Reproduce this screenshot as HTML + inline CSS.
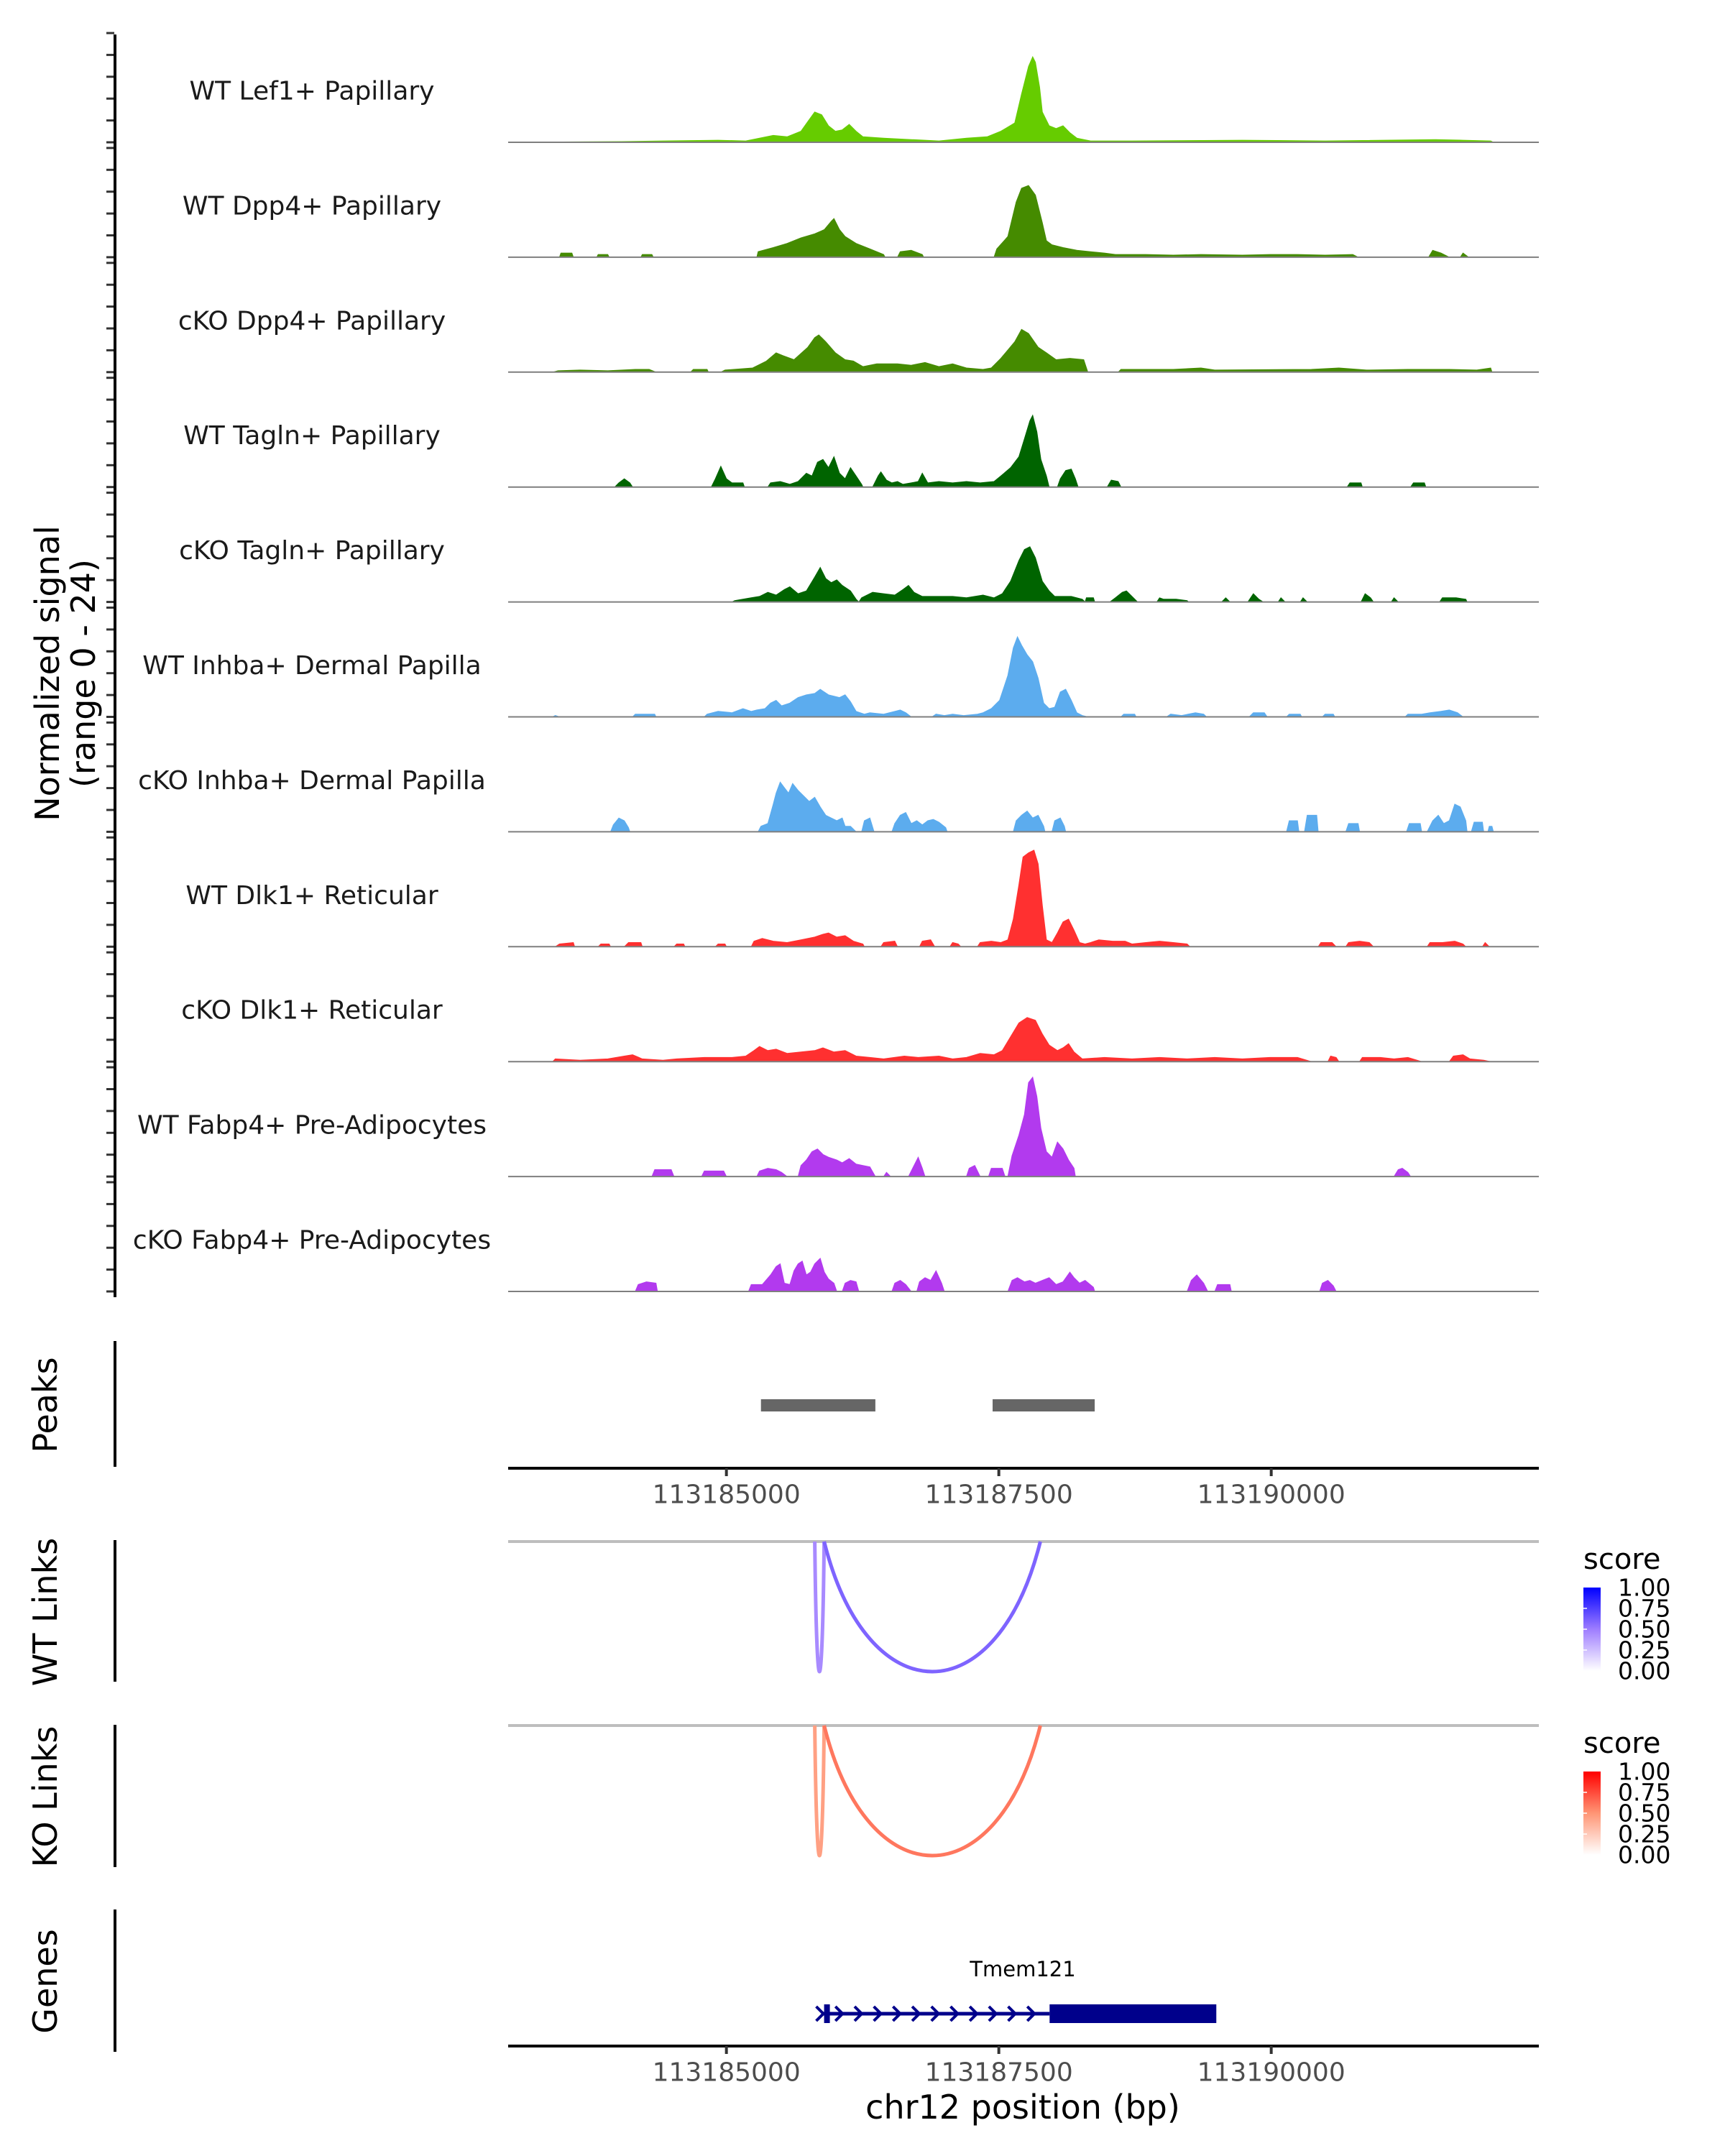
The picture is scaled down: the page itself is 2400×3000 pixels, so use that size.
<!DOCTYPE html>
<html><head><meta charset="utf-8"><title>Coverage plot chr12 Tmem121</title>
<style>
html,body{margin:0;padding:0;background:#fff;}
svg{display:block;font-family:"DejaVu Sans","Liberation Sans",sans-serif;}
</style></head>
<body>
<svg id="chart" width="2400" height="3000" viewBox="0 0 2400 3000" xmlns="http://www.w3.org/2000/svg">
<rect x="0" y="0" width="2400" height="3000" fill="#fff"/>
<g id="g-tracks"></g>
<g id="g-axes"></g>
<g id="g-peaks"></g>
<g id="g-links"></g>
<g id="g-genes"></g>
<defs>
<linearGradient id="gradBlue" x1="0" y1="1" x2="0" y2="0"><stop offset="0" stop-color="#ffffff"/><stop offset="0.5" stop-color="#9e7dff"/><stop offset="1" stop-color="#0000ff"/></linearGradient>
<linearGradient id="gradRed" x1="0" y1="1" x2="0" y2="0"><stop offset="0" stop-color="#ffffff"/><stop offset="0.5" stop-color="#ff9575"/><stop offset="1" stop-color="#ff0000"/></linearGradient>
</defs>
</svg>
<script>
// ---- data: genomic offsets (bp from 113185000) and normalized signal ----
const anchorBp = 113185000;
const regionStart = 113182997;
const regionEnd = 113192456;
const axisTicks = [113185000, 113187500, 113190000];
const trackNames = ["WT Lef1+ Papillary","WT Dpp4+ Papillary","cKO Dpp4+ Papillary","WT Tagln+ Papillary","cKO Tagln+ Papillary","WT Inhba+ Dermal Papilla","cKO Inhba+ Dermal Papilla","WT Dlk1+ Reticular","cKO Dlk1+ Reticular","WT Fabp4+ Pre-Adipocytes","cKO Fabp4+ Pre-Adipocytes"];
const trackColors = ["#66cc00","#458b00","#458b00","#006400","#006400","#5cacee","#5cacee","#ff3030","#ff3030","#b23aee","#b23aee"];

const sigWTLef1 = [[-1975,0],[-962,0.15],[-582,0.3],[-76,0.45],[177,0.3],[304,0.9],[430,1.5],[557,1.2],[684,2.4],[747,4.5],[810,6.6],[874,6],[937,3.6],[1000,2.4],[1063,2.7],[1127,3.9],[1190,2.4],[1253,1.2],[1443,0.9],[1696,0.6],[1950,0.3],[2203,0.9],[2393,1.2],[2519,2.4],[2646,4.2],[2709,10.5],[2773,16.5],[2811,18.6],[2836,17.4],[2874,12],[2899,6.6],[2962,3.6],[3026,3],[3089,3.6],[3152,2.1],[3216,0.9],[3342,0.3],[3722,0.3],[4735,0.45],[5494,0.3],[6507,0.6],[6760,0.45],[7014,0.3],[7039,0]];
const sigWTDpp4 = [[-1532,0],[-1519,0.9],[-1418,0.9],[-1405,0],[-1190,0],[-1177,0.6],[-1089,0.6],[-1076,0],[-785,0],[-772,0.6],[-684,0.6],[-671,0],[279,0],[291,1.2],[430,2.1],[557,3],[684,4.2],[810,5.1],[899,6],[962,7.8],[987,8.4],[1038,6],[1089,4.5],[1190,3],[1317,1.8],[1443,0.6],[1456,0],[1570,0],[1595,1.2],[1696,1.5],[1798,0.6],[1810,0],[2456,0],[2481,1.8],[2583,4.5],[2659,12],[2709,15],[2773,15.6],[2836,13.5],[2899,7.5],[2937,3.6],[2988,2.7],[3089,2.1],[3216,1.5],[3342,1.2],[3469,0.9],[3570,0.6],[3595,0.6],[3849,0.6],[4102,0.45],[4355,0.6],[4735,0.45],[4988,0.6],[5241,0.6],[5494,0.45],[5748,0.6],[5798,0],[6444,0],[6482,1.5],[6558,0.9],[6634,0],[6735,0],[6760,0.9],[6811,0]];
const sigKODpp4 = [[-1595,0],[-1545,0.3],[-1342,0.45],[-1089,0.3],[-836,0.6],[-709,0.6],[-646,0],[-329,0],[-304,0.6],[-177,0.6],[-165,0],[-51,0],[-13,0.45],[241,0.9],[367,2.4],[456,4.2],[519,3.6],[620,2.7],[747,5.4],[810,7.5],[848,8.1],[912,6.6],[1000,4.2],[1089,2.7],[1165,2.4],[1253,1.2],[1380,1.8],[1570,1.8],[1696,1.5],[1823,2.1],[1950,1.2],[2076,1.8],[2203,0.9],[2355,0.6],[2431,0.9],[2519,3],[2646,6.6],[2709,9.3],[2773,8.4],[2861,5.4],[2937,4.2],[3026,2.7],[3152,3],[3279,2.7],[3317,0],[3595,0],[3621,0.6],[4102,0.6],[4355,0.9],[4482,0.45],[5368,0.6],[5621,0.9],[5874,0.45],[6254,0.6],[6634,0.6],[6887,0.45],[7014,0.9],[7026,0]];
const sigWTTagln = [[-1025,0],[-987,0.9],[-937,1.8],[-886,0.9],[-861,0],[-139,0],[-101,1.8],[-51,4.5],[0,1.8],[51,0.9],[152,0.9],[165,0],[380,0],[405,0.9],[494,1.2],[582,0.6],[658,1.2],[734,3],[785,2.4],[836,5.4],[886,6],[937,4.2],[987,6.6],[1038,3],[1089,1.8],[1139,4.2],[1190,2.4],[1241,0.6],[1253,0],[1342,0],[1393,2.4],[1418,3.3],[1469,1.5],[1519,0.9],[1570,1.2],[1620,0.6],[1696,0.9],[1760,1.2],[1798,3],[1848,0.9],[1950,1.2],[2076,0.9],[2203,1.2],[2329,0.9],[2456,1.2],[2519,2.4],[2608,4.2],[2684,6.6],[2735,10.5],[2785,14.4],[2811,15.6],[2849,12],[2886,6],[2937,2.4],[2962,0],[3038,0],[3064,1.8],[3114,3.6],[3165,3.9],[3203,1.8],[3228,0],[3494,0],[3532,1.5],[3595,1.2],[3621,0],[5697,0],[5722,0.9],[5824,0.9],[5836,0],[6279,0],[6305,0.9],[6406,0.9],[6419,0]];
const sigKOTagln = [[51,0],[76,0.3],[228,0.9],[304,1.2],[380,2.1],[456,1.5],[532,2.7],[582,3.3],[658,1.8],[734,2.4],[810,5.4],[861,7.5],[912,5.1],[962,4.2],[1013,4.8],[1063,3.6],[1139,2.4],[1190,0.6],[1215,0],[1241,0.9],[1342,2.1],[1443,1.8],[1545,1.5],[1620,2.7],[1671,3.6],[1722,2.1],[1798,1.2],[1848,1.2],[2076,1.2],[2203,0.9],[2355,1.5],[2456,0.9],[2532,1.8],[2608,4.5],[2684,9],[2735,11.4],[2785,12],[2836,9.6],[2899,4.5],[2962,2.4],[3013,1.2],[3165,1.2],[3266,0.6],[3292,0],[3304,0.9],[3368,0.9],[3380,0],[3519,0],[3570,0.9],[3633,2.1],[3671,2.4],[3722,1.2],[3773,0],[3950,0],[3975,0.9],[4013,0.6],[4127,0.6],[4228,0.3],[4241,0],[4545,0],[4583,0.9],[4621,0],[4785,0],[4836,1.8],[4887,0.6],[4925,0],[5064,0],[5089,0.9],[5127,0],[5267,0],[5292,0.9],[5330,0],[5824,0],[5862,1.8],[5912,0.9],[5938,0],[6102,0],[6127,0.9],[6165,0],[6545,0],[6571,0.9],[6697,0.9],[6786,0.6],[6798,0]];
const sigWTInhba = [[-1595,0],[-1570,0.3],[-1532,0],[-861,0],[-836,0.6],[-658,0.6],[-646,0],[-203,0],[-177,0.6],[-76,1.2],[51,0.9],[152,1.8],[228,1.2],[279,1.5],[354,1.8],[405,3],[456,3.6],[506,2.4],[582,3],[658,4.2],[734,4.8],[810,5.1],[861,6],[937,4.8],[1038,4.2],[1089,4.8],[1139,3.3],[1190,1.2],[1266,0.6],[1317,0.9],[1443,0.6],[1545,1.2],[1595,1.5],[1646,0.9],[1696,0],[1886,0],[1924,0.6],[2000,0.3],[2076,0.6],[2178,0.3],[2304,0.6],[2355,0.9],[2431,1.8],[2507,3.6],[2583,9],[2633,15],[2671,17.4],[2709,15.6],[2760,13.5],[2811,12],[2861,8.4],[2912,3],[2962,1.8],[3013,2.1],[3064,5.4],[3114,6],[3165,3.6],[3216,0.9],[3266,0.3],[3317,0],[3621,0],[3646,0.6],[3747,0.6],[3760,0],[4039,0],[4077,0.6],[4178,0.3],[4304,0.9],[4380,0.6],[4406,0],[4798,0],[4836,0.9],[4937,0.9],[4963,0],[5140,0],[5165,0.6],[5267,0.6],[5279,0],[5469,0],[5494,0.6],[5570,0.6],[5583,0],[6229,0],[6254,0.6],[6381,0.6],[6457,0.9],[6558,1.2],[6634,1.5],[6710,0.9],[6760,0]];
const sigKOInhba = [[-1063,0],[-1038,1.5],[-987,3],[-937,2.4],[-899,0.9],[-886,0],[291,0],[317,1.2],[380,1.8],[430,6],[456,8.4],[494,10.8],[532,9.6],[570,8.4],[608,10.5],[658,9],[709,7.8],[760,6.6],[810,7.5],[861,5.4],[912,3.6],[962,3],[1013,2.4],[1063,3],[1089,1.2],[1139,1.2],[1190,0],[1241,0],[1266,2.4],[1317,3],[1355,0],[1519,0],[1545,1.8],[1595,3.6],[1646,4.2],[1696,1.8],[1747,2.4],[1798,1.5],[1848,2.4],[1899,2.7],[1950,2.1],[2013,0.9],[2026,0],[2633,0],[2659,2.4],[2709,3.6],[2760,4.5],[2811,3],[2861,3.6],[2912,1.2],[2924,0],[2988,0],[3013,2.4],[3064,3],[3102,1.2],[3114,0],[5140,0],[5165,2.4],[5241,2.4],[5254,0],[5305,0],[5330,3.6],[5418,3.6],[5431,0],[5684,0],[5710,1.8],[5798,1.8],[5811,0],[6241,0],[6267,1.8],[6368,1.8],[6381,0],[6431,0],[6482,2.4],[6533,3.6],[6583,1.8],[6634,2.4],[6684,6],[6735,5.4],[6786,2.4],[6798,0],[6836,0],[6862,2.1],[6938,2.1],[6950,0],[6988,0],[7001,1.2],[7026,1.2],[7039,0]];
const sigWTDlk1 = [[-1570,0],[-1532,0.6],[-1405,0.9],[-1393,0],[-1177,0],[-1152,0.6],[-1076,0.6],[-1063,0],[-937,0],[-899,0.9],[-785,0.9],[-772,0],[-481,0],[-456,0.6],[-392,0.6],[-380,0],[-101,0],[-76,0.6],[-13,0.6],[0,0],[228,0],[253,1.2],[329,1.8],[430,1.2],[557,0.9],[684,1.5],[810,2.1],[886,2.7],[937,3],[1013,2.1],[1089,2.4],[1165,1.2],[1253,0.6],[1266,0],[1418,0],[1443,0.9],[1545,1.2],[1570,0],[1772,0],[1798,1.2],[1874,1.5],[1912,0],[2051,0],[2076,0.9],[2127,0.6],[2152,0],[2304,0],[2329,0.9],[2431,1.2],[2519,0.9],[2583,1.5],[2633,6],[2684,13.5],[2722,19.5],[2773,20.4],[2823,21],[2861,18],[2899,9],[2937,1.5],[2988,0.9],[3038,3],[3089,5.4],[3140,6],[3190,3.6],[3241,0.9],[3292,0.6],[3342,0.9],[3418,1.5],[3545,1.2],[3659,1.2],[3722,0.6],[3849,0.9],[3975,1.2],[4102,0.9],[4228,0.6],[4254,0],[5431,0],[5456,0.9],[5558,0.9],[5596,0],[5684,0],[5710,0.9],[5811,1.2],[5900,0.9],[5938,0],[6431,0],[6457,0.9],[6571,0.9],[6684,1.2],[6760,0.6],[6786,0],[6938,0],[6963,0.9],[7001,0]];
const sigKODlk1 = [[-1595,0],[-1570,0.6],[-1342,0.3],[-1089,0.6],[-937,1.2],[-861,1.5],[-772,0.6],[-582,0.3],[-456,0.6],[-203,0.9],[51,0.9],[177,1.2],[253,2.4],[304,3.3],[380,2.4],[456,2.7],[557,1.8],[684,2.1],[810,2.4],[886,3],[987,2.1],[1089,2.4],[1190,1.2],[1317,0.9],[1443,0.6],[1633,1.2],[1760,0.9],[1950,1.2],[2076,0.6],[2203,0.9],[2329,1.8],[2456,1.5],[2532,2.4],[2608,5.4],[2684,8.4],[2760,9.6],[2836,9],[2899,6],[2962,3.6],[3038,2.4],[3089,3],[3140,3.9],[3190,2.1],[3266,0.6],[3469,0.9],[3722,0.6],[3975,0.9],[4228,0.6],[4482,0.9],[4735,0.6],[4988,0.9],[5241,0.9],[5368,0],[5520,0],[5545,1.2],[5596,0.9],[5621,0],[5811,0],[5836,0.9],[6001,0.9],[6127,0.6],[6254,0.9],[6381,0],[6634,0],[6672,1.2],[6760,1.5],[6824,0.6],[6950,0.3],[7014,0]];
const sigWTFabp4 = [[-684,0],[-658,1.5],[-506,1.5],[-481,0],[-228,0],[-203,1.2],[-25,1.2],[0,0],[279,0],[304,1.2],[380,1.8],[456,1.5],[506,0.9],[557,0],[658,0],[684,2.4],[734,3.6],[785,5.4],[836,6],[886,4.8],[937,4.2],[1013,3.6],[1063,3],[1127,3.9],[1190,2.7],[1253,2.4],[1317,2.1],[1367,0],[1443,0],[1469,0.9],[1507,0],[1671,0],[1722,2.4],[1760,4.2],[1798,1.8],[1823,0],[2203,0],[2228,1.8],[2279,2.4],[2329,0],[2405,0],[2431,1.8],[2532,1.8],[2557,0],[2583,0],[2621,4.5],[2684,9],[2735,13.5],[2773,20.4],[2811,21.6],[2849,17.4],[2886,10.5],[2937,5.4],[2988,4.2],[3038,7.5],[3089,6],[3140,3.6],[3190,1.8],[3203,0],[6127,0],[6165,1.5],[6203,1.8],[6254,0.9],[6279,0]];
const sigKOFabp4 = [[-836,0],[-810,1.5],[-734,2.1],[-646,1.8],[-633,0],[203,0],[228,1.5],[329,1.5],[405,3.6],[456,5.4],[494,6],[532,1.8],[582,1.5],[620,4.5],[658,6],[696,6.6],[734,3.6],[772,4.2],[810,6],[861,7.2],[899,4.2],[937,2.7],[987,1.8],[1013,0],[1063,0],[1089,1.8],[1139,2.4],[1190,2.1],[1215,0],[1519,0],[1545,1.8],[1595,2.4],[1646,1.5],[1696,0],[1747,0],[1772,2.1],[1823,3],[1874,2.4],[1924,4.5],[1975,1.8],[2000,0],[2583,0],[2621,2.4],[2671,3],[2735,2.1],[2785,2.4],[2836,1.8],[2899,2.4],[2962,3],[3026,1.5],[3089,2.1],[3152,4.2],[3190,3],[3241,1.8],[3292,2.4],[3368,0.9],[3380,0],[4228,0],[4266,2.4],[4317,3.6],[4380,1.8],[4418,0],[4482,0],[4507,1.5],[4621,1.5],[4634,0],[5444,0],[5469,1.8],[5520,2.4],[5570,1.2],[5596,0]];
const allSignals = [sigWTLef1,sigWTDpp4,sigKODpp4,sigWTTagln,sigKOTagln,sigWTInhba,sigKOInhba,sigWTDlk1,sigKODlk1,sigWTFabp4,sigKOFabp4];

const peakStarts = [317, 2443];
const peakEnds = [1367, 3380];
const linkStarts = [811, 897];
const linkEnds = [897, 2881];
const wtLinkScores = [0.45, 0.6];
const koLinkScores = [0.45, 0.6];
const legendTicks = [0, 0.25, 0.5, 0.75, 1];
const geneName = "Tmem121";
const geneStart = 923;
const geneCdsStart = 2966;
const geneEnd = 4496;

// ---- scales ----
const X0 = 707, X1 = 2141;
const pxPerBp = (X1 - X0) / (regionEnd - regionStart);
function xScale(bp){ return X0 + (bp - regionStart) * pxPerBp; }
function xOff(off){ return xScale(anchorBp + off); }
const BASE0 = 198, TRACK_STEP = 159.9, PX_PER_UNIT = 6.4;
function yScale(i, v){ return BASE0 + i*TRACK_STEP - v*PX_PER_UNIT; }

const NS = "http://www.w3.org/2000/svg";
function mk(tag, parent, attrs){
  const el = document.createElementNS(NS, tag);
  for (const k in attrs) el.setAttribute(k, attrs[k]);
  parent.appendChild(el);
  return el;
}
const gT = document.getElementById('g-tracks');
const gA = document.getElementById('g-axes');
const gP = document.getElementById('g-peaks');
const gL = document.getElementById('g-links');
const gG = document.getElementById('g-genes');

// signal tracks
allSignals.forEach((sig, i) => {
  const base = yScale(i, 0);
  let d = "M" + xOff(sig[0][0]).toFixed(1) + "," + base.toFixed(1);
  sig.forEach(p => { d += " L" + xOff(p[0]).toFixed(1) + "," + yScale(i, p[1]).toFixed(1); });
  d += " L" + xOff(sig[sig.length-1][0]).toFixed(1) + "," + base.toFixed(1) + " Z";
  const area = mk('path', gT, {d: d, fill: trackColors[i], stroke: trackColors[i], 'stroke-width': 1});
  
  
  const bl = mk('line', gT, {x1: X0, x2: X1, y1: base, y2: base, stroke: '#7f7f7f', 'stroke-width': 2});
  
  
  const lb = mk('text', gT, {x: 434, y: base - 71, 'font-size': 36, fill: '#1a1a1a', 'text-anchor': 'middle', 'dominant-baseline': 'central'});
  lb.textContent = trackNames[i];
  
  
  for (let k = 0; k <= 5; k++) {
    const ty = base - k * 30.4;
    const tk = mk('line', gA, {x1: 148, x2: 159, y1: ty, y2: ty, stroke: '#333', 'stroke-width': 3});
    
    
  }
});

function vaxis(y1, y2, name){
  const l = mk('line', gA, {x1: 160, x2: 160, y1: y1, y2: y2, stroke: '#000', 'stroke-width': 4});
  
  
}
vaxis(48, 1805, 'signal-y-axis');
vaxis(1866, 2041, 'peaks-y-axis');
vaxis(2143, 2340, 'wt-links-y-axis');
vaxis(2400, 2598, 'ko-links-y-axis');
vaxis(2657, 2855, 'genes-y-axis');

function rotLabel(txt, x, y, size, name){
  const t = mk('text', gA, {x: x, y: y, 'font-size': size, fill: '#000', 'text-anchor': 'middle', 'dominant-baseline': 'central', transform: 'rotate(-90 ' + x + ' ' + y + ')'});
  t.textContent = txt;
  
  
}
rotLabel('Normalized signal', 66, 937, 46, 'y-axis-title');
rotLabel('(range 0 - 24)', 116, 937, 46, 'y-axis-subtitle');
rotLabel('Peaks', 63, 1955, 46, 'peaks-label');
rotLabel('WT Links', 63, 2243, 46, 'wt-links-label');
rotLabel('KO Links', 63, 2500, 46, 'ko-links-label');
rotLabel('Genes', 63, 2757, 46, 'genes-label');

peakStarts.forEach((s, i) => {
  const r = mk('rect', gP, {x: xOff(s), y: 1947, width: xOff(peakEnds[i]) - xOff(s), height: 17, fill: '#666666'});
  
  
});

function xaxis(y, name){
  const l = mk('line', gA, {x1: X0, x2: X1, y1: y, y2: y, stroke: '#000', 'stroke-width': 4});
  
  
  axisTicks.forEach(t => {
    const tx = xScale(t);
    const tk = mk('line', gA, {x1: tx, x2: tx, y1: y, y2: y + 11, stroke: '#333', 'stroke-width': 4});
    
    
    const tl = mk('text', gA, {x: tx, y: y + 37, 'font-size': 36, fill: '#4d4d4d', 'text-anchor': 'middle', 'dominant-baseline': 'central'});
    tl.textContent = String(t);
    
    
  });
}
xaxis(2043, 'peaks-x-axis');
xaxis(2847, 'genes-x-axis');
const xt = mk('text', gA, {x: 1423, y: 2932, 'font-size': 46, fill: '#000', 'text-anchor': 'middle', 'dominant-baseline': 'central'});
xt.textContent = 'chr12 position (bp)';



// links
const blueStops = [[0,[255,255,255]],[0.5,[158,125,255]],[1,[0,0,255]]];
const redStops = [[0,[255,255,255]],[0.5,[255,149,117]],[1,[255,0,0]]];
function colorAt(stops, s){
  for (let k = 1; k < stops.length; k++) {
    if (s <= stops[k][0]) {
      const a = stops[k-1], b = stops[k], t = (s - a[0]) / (b[0] - a[0]);
      const c = a[1].map((v, j) => Math.round(v + (b[1][j] - v) * t));
      return 'rgb(' + c.join(',') + ')';
    }
  }
  const l = stops[stops.length-1][1];
  return 'rgb(' + l.join(',') + ')';
}
function linkPanel(top, depth, scores, stops, prefix){
  const gl = mk('line', gL, {x1: X0, x2: X1, y1: top, y2: top, stroke: '#bebebe', 'stroke-width': 4});
  
  
  linkStarts.forEach((s, i) => {
    const a = xOff(s), b = xOff(linkEnds[i]), w = b - a;
    const cy = top + depth * 4 / 3;
    const d = 'M' + a + ',' + top + ' C' + (a + w*0.2) + ',' + cy + ' ' + (b - w*0.2) + ',' + cy + ' ' + b + ',' + top;
    const p = mk('path', gL, {d: d, fill: 'none', stroke: colorAt(stops, scores[i]), 'stroke-width': 5});
    
    
  });
}
linkPanel(2145, 181, wtLinkScores, blueStops, 'wt-link');
linkPanel(2401, 181, koLinkScores, redStops, 'ko-link');

function legend(top, grad, prefix){
  const t = mk('text', gL, {x: 2203, y: top, 'font-size': 40, fill: '#000', 'dominant-baseline': 'central'});
  t.textContent = 'score';
  
  
  const by0 = top + 39, bh = 116;
  const bar = mk('rect', gL, {x: 2203, y: by0, width: 24, height: bh, fill: 'url(#' + grad + ')'});
  
  
  legendTicks.forEach(v => {
    const ty = by0 + bh * (1 - v);
    if (v > 0 && v < 1) {
      const tk = mk('line', gL, {x1: 2203, x2: 2208, y1: ty, y2: ty, stroke: '#fff', 'stroke-width': 1.5});
      
      
    }
    const tl = mk('text', gL, {x: 2251, y: ty, 'font-size': 33, fill: '#000', 'dominant-baseline': 'central'});
    tl.textContent = v.toFixed(2);
    
    
  });
}
legend(2170, 'gradBlue', 'wt');
legend(2426, 'gradRed', 'ko');

// gene model
const gy = 2802;
const gx0 = xOff(geneStart), gxc = xOff(geneCdsStart), gx1 = xOff(geneEnd);
const gl1 = mk('line', gG, {x1: gx0 - 8, x2: gxc, y1: gy, y2: gy, stroke: '#00008b', 'stroke-width': 5});


const ex1 = mk('rect', gG, {x: gx0 - 4, y: gy - 13, width: 8, height: 26, fill: '#00008b'});


const cds = mk('rect', gG, {x: gxc, y: gy - 13, width: gx1 - gxc, height: 26, fill: '#00008b'});


for (let ax = gx0 - 10; ax < gxc - 4; ax += 26.7) {
  const ch = mk('path', gG, {d: 'M' + (ax - 5) + ',' + (gy - 10) + ' L' + (ax + 5) + ',' + gy + ' L' + (ax - 5) + ',' + (gy + 10), fill: 'none', stroke: '#00008b', 'stroke-width': 4});
  
  
}
const gn = mk('text', gG, {x: 1423, y: 2740, 'font-size': 29, fill: '#000', 'text-anchor': 'middle', 'dominant-baseline': 'central'});
gn.textContent = geneName;


</script>
</body></html>
